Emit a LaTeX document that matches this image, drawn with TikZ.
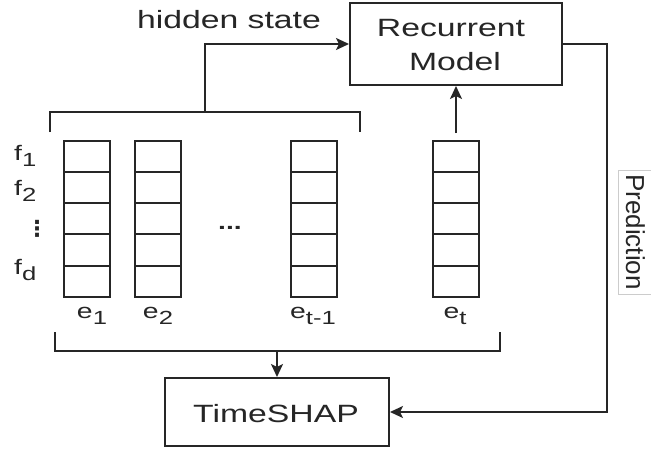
\documentclass[tikz,border=0pt]{standalone}
\usepackage{fontspec}
\setmainfont[FakeStretch=1.35]{Liberation Sans}
\newfontfamily\plainsans{Liberation Sans}
\newfontfamily\dvs{DejaVu Sans}
\usetikzlibrary{arrows.meta}
\newcommand\sbs[1]{\raisebox{-6pt}{\fontsize{19}{19}\selectfont #1}}
\begin{document}
\begin{tikzpicture}[x=1pt,y=-1pt,
  color=black!85,
  ln/.style={draw=black!85, line width=2pt},
  box/.style={draw=black!85, line width=2pt, inner sep=0pt},
  col/.style={draw=black!85, line width=2pt, minimum width=46pt, minimum height=156pt, inner sep=0pt},
  arr/.style={ln, -{Stealth[length=13pt,width=12pt,inset=3pt]}},
  big/.style={font=\fontsize{25}{30}\selectfont, anchor=base, inner sep=0pt, text=black!85},
  lab/.style={font=\fontsize{21}{24}\selectfont, anchor=base, inner sep=0pt, text=black!85},
]
\useasboundingbox (0,0) rectangle (651,450);
\fill[white] (0,0) rectangle (651,450);

% boxes
\node[box, minimum width=212pt, minimum height=82pt] (rm) at (456,44) {};
\node[big] (rmt1) at (451,36) {Recurrent};
\node[big] (rmt2) at (455,70) {Model};
\node[box, minimum width=224pt, minimum height=68pt] (ts) at (277,412) {};
\node[big] (tst) at (276,422) {TimeSHAP};

% text
\node[big] (hst) at (229,28) {hidden state};

% columns
\foreach \n/\x in {c1/87, c2/158, c3/314, c4/456}{
  \node[col] (\n) at (\x,219) {};
  \foreach \y in {172,203,234,266}{
    \draw[ln] (\n.west |- 0,\y) -- (\n.east |- 0,\y);
  }
}

% e labels
\node[lab] (e1) at (92,318) {e\sbs{1}};
\node[lab] (e2) at (158,318) {e\sbs{2}};
\node[lab] (e3) at (313,318) {e\sbs{t-1}};
\node[lab] (e4) at (455,318) {e\sbs{t}};

% f labels
\node[lab, anchor=base west] (f1) at (14,160) {f\sbs{1}};
\node[lab, anchor=base west] (f2) at (14,195) {f\sbs{2}};
\node[lab, anchor=base west] (fd) at (14,274) {f\sbs{d}};
\node[font=\dvs\bfseries\fontsize{22}{22}\selectfont, inner sep=0pt, text=black!85] (fv) at (37,229) {⋮};
\node[lab, font=\bfseries\fontsize{21}{24}\selectfont] (dots) at (230,229) {...};

% top bracket
\coordinate (tbl) at (50,132);
\coordinate (tbr) at (360,132);
\coordinate (hs) at (205,112);
\draw[ln] (tbl) -- (50,112) -- (360,112) -- (tbr);
\draw[arr] (hs) |- (rm.west);

% e_t to model
\coordinate (etop) at (456,133);
\draw[arr] (etop) -- (rm.south);

% bottom bracket
\coordinate (bbl) at (55,332);
\coordinate (bbr) at (500,332);
\coordinate (bb) at (277,351);
\draw[ln] (bbl) -- (55,351) -- (500,351) -- (bbr);
\draw[arr] (bb) -- (ts.north);

% prediction
\coordinate (pc) at (607,44);
\draw[arr] (rm.east) -- (pc) |- (ts.east);
\node[draw=black!20, line width=0.6pt, fill=white, rotate=-90,
  font=\plainsans\fontsize{26}{30}\selectfont, text=black!85,
  inner xsep=4pt, inner ysep=3pt, text height=27pt, text depth=5pt] (pl) at (637,232) {Prediction};
\end{tikzpicture}
\end{document}
